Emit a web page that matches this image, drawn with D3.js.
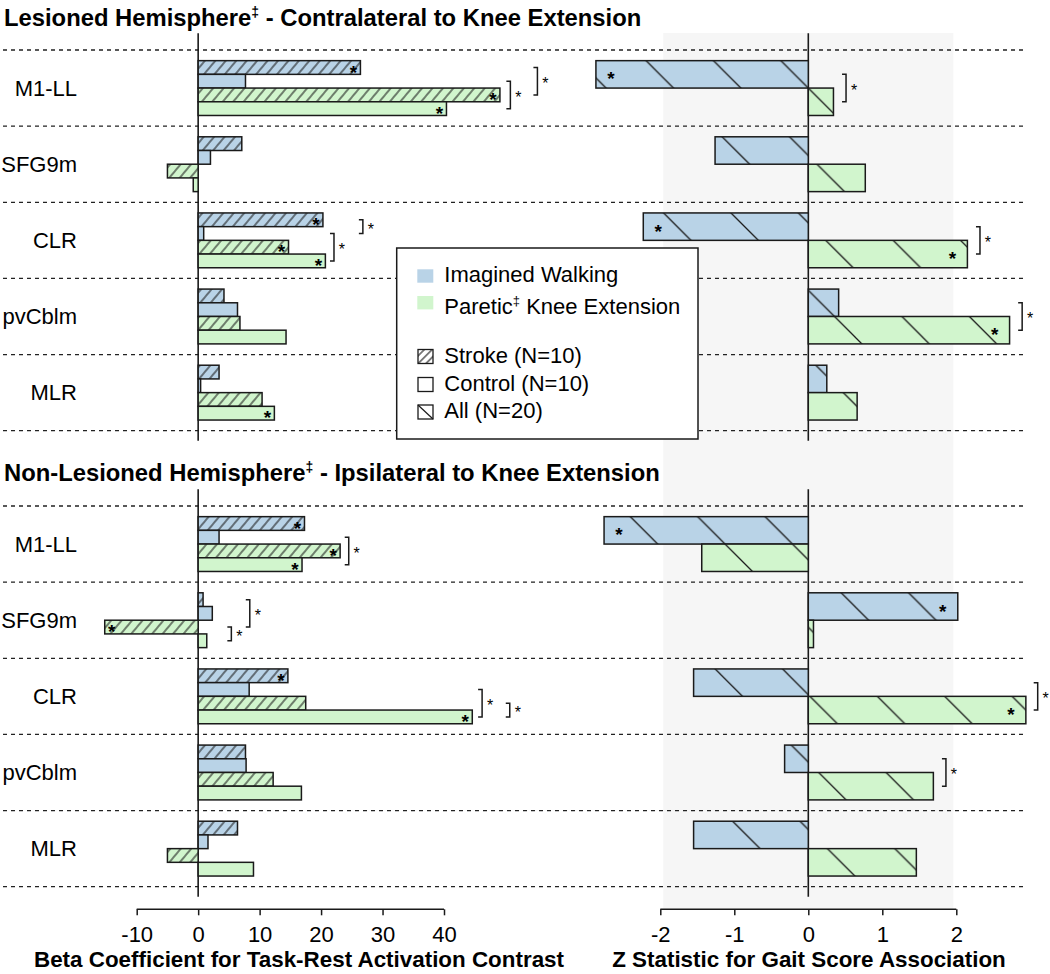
<!DOCTYPE html>
<html><head><meta charset="utf-8">
<script src="https://cdn.jsdelivr.net/npm/d3@7"></script>
<style>body{margin:0;background:#fff}svg{display:block;font-family:"Liberation Sans",Arial,Helvetica,sans-serif}</style>
</head><body>
<script>
// ---------------- data ----------------
const regions = ["M1-LL","SFG9m","CLR","pvCblm","MLR"];
const betaTicks = [-10,0,10,20,30,40];
const zTicks = [-2,-1,0,1,2];

// Lesioned hemisphere: beta coefficients
const lesStrokeIW  = [26.4, 7.1, 20.3, 4.2, 3.4];
const lesControlIW = [7.7, 2.0, 0.9, 6.4, 0.4];
const lesStrokeKE  = [49.1, -5.0, 14.7, 6.8, 10.4];
const lesControlKE = [40.4, -0.8, 20.7, 14.3, 12.4];
const lesStrokeIWSig  = [1,0,1,0,0];
const lesControlIWSig = [0,0,0,0,0];
const lesStrokeKESig  = [1,0,1,0,0];
const lesControlKESig = [1,0,1,0,1];

// Non-lesioned hemisphere: beta coefficients
const nonStrokeIW  = [17.3, 0.8, 14.6, 7.7, 6.4];
const nonControlIW = [3.4, 2.3, 8.3, 7.8, 1.6];
const nonStrokeKE  = [23.1, -15.2, 17.5, 12.2, -5.0];
const nonControlKE = [16.9, 1.4, 44.6, 16.8, 9.0];
const nonStrokeIWSig  = [1,0,1,0,0];
const nonControlIWSig = [0,0,0,0,0];
const nonStrokeKESig  = [1,1,0,0,0];
const nonControlKESig = [1,0,1,0,0];

// Z statistics (All, N=20)
const lesZIW = [-2.87, -1.26, -2.23, 0.41, 0.25];
const lesZKE = [0.34, 0.77, 2.15, 2.72, 0.66];
const nonZIW = [-2.76, 2.02, -1.55, -0.32, -1.55];
const nonZKE = [-1.44, 0.07, 2.94, 1.69, 1.46];
const lesZIWSig = [1,0,1,0,0];
const lesZKESig = [0,0,1,1,0];
const nonZIWSig = [1,1,0,0,0];
const nonZKESig = [0,0,1,0,0];

// significance brackets: region, bar indices compared, value where bracket sits
const lesBrackets  = [{r:"M1-LL",a:1,b:3,at:50.8},{r:"M1-LL",a:0,b:2,at:55.2},{r:"CLR",a:0,b:1,at:26.8},{r:"CLR",a:1,b:3,at:22.1}];
const nonBrackets  = [{r:"M1-LL",a:1,b:3,at:24.5},{r:"SFG9m",a:0,b:2,at:8.4},{r:"SFG9m",a:2,b:3,at:5.4},{r:"CLR",a:1,b:3,at:46.2},{r:"CLR",a:2,b:3,at:50.7}];
const lesZBrackets = [{r:"M1-LL",a:0,b:1,at:0.51},{r:"CLR",a:0,b:1,at:2.32},{r:"pvCblm",a:0,b:1,at:2.89}];
const nonZBrackets = [{r:"CLR",a:0,b:1,at:3.10},{r:"pvCblm",a:0,b:1,at:1.86}];

const titles = ["Lesioned Hemisphere", " - Contralateral to Knee Extension", "Non-Lesioned Hemisphere", " - Ipsilateral to Knee Extension"];
const legendTasks = ["Imagined Walking", "Paretic", " Knee Extension"];
const legendGroups = ["Stroke (N=10)", "Control (N=10)", "All (N=20)"];
const xTitleL = "Beta Coefficient for Task-Rest Activation Contrast";
const xTitleR = "Z Statistic for Gait Score Association";

// ---------------- styles ----------------
const BLUE = "#b9d3e7", GREEN = "#d1f5cd", INK = "#1a1a1a";
const W = 1050, H = 974;

const svg = d3.select("body").append("svg").attr("width", W).attr("height", H);
const defs = svg.append("defs");

const xL = d3.scaleLinear().domain([-10, 40]).range([136.7, 444]);
const xR = d3.scaleLinear().domain([-2, 2]).range([660.3, 956.3]);

// patterns
const pSlash = defs.append("pattern").attr("id","slash").attr("patternUnits","userSpaceOnUse")
  .attr("width",8).attr("height",20).attr("patternTransform","rotate(40)");
pSlash.append("line").attr("x1",4).attr("y1",-2).attr("x2",4).attr("y2",22).attr("stroke",INK).attr("stroke-width",1.1);

const pLegSlash = defs.append("pattern").attr("id","legslash").attr("patternUnits","userSpaceOnUse")
  .attr("width",5.5).attr("height",20).attr("patternTransform","rotate(45)");
pLegSlash.append("line").attr("x1",2.75).attr("y1",-2).attr("x2",2.75).attr("y2",22).attr("stroke",INK).attr("stroke-width",1.1);

const period = 67.4;

// ---------------- panels ----------------
const panels = [
  {top:50, bottom:430.7, lineTop:33.3, lineBottom:440.7,
   left:[lesStrokeIW, lesControlIW, lesStrokeKE, lesControlKE],
   leftSig:[lesStrokeIWSig, lesControlIWSig, lesStrokeKESig, lesControlKESig],
   right:[lesZIW, lesZKE], rightSig:[lesZIWSig, lesZKESig],
   lb:lesBrackets, rb:lesZBrackets, title:[titles[0], titles[1]], titleY:26},
  {top:506, bottom:886.7, lineTop:489.3, lineBottom:896.7,
   left:[nonStrokeIW, nonControlIW, nonStrokeKE, nonControlKE],
   leftSig:[nonStrokeIWSig, nonControlIWSig, nonStrokeKESig, nonControlKESig],
   right:[nonZIW, nonZKE], rightSig:[nonZIWSig, nonZKESig],
   lb:nonBrackets, rb:nonZBrackets, title:[titles[2], titles[3]], titleY:481}
];
const leftFill = [BLUE, BLUE, GREEN, GREEN];
const leftHatch = [true, false, true, false];
const rightFill = [BLUE, GREEN];

// gray +-1.96 band
svg.append("rect").attr("x", xR(-1.96)).attr("y", 33).attr("width", xR(1.96)-xR(-1.96))
  .attr("height", 909 - 33).attr("fill", "#f6f6f6");

// backslash pattern anchored to first panel
{
  const y0 = d3.scaleBand().domain(regions).range([panels[0].top, panels[0].bottom]).paddingInner(0.28).paddingOuter(0.14);
  const anchor = ((xR(0) - (y0(regions[0]) + y0.bandwidth()/2)) % period + period) % period;
  const pB = defs.append("pattern").attr("id","bslash").attr("patternUnits","userSpaceOnUse")
    .attr("x", anchor).attr("y", 0).attr("width", period).attr("height", period);
  pB.append("path").attr("d", `M0,0L${period},${period}M-4,${period-4}L4,${period+4}M${period-4},-4L${period+4},4`)
    .attr("stroke", INK).attr("stroke-width", 1.3).attr("fill","none");
}

panels.forEach(P => {
  const g = svg.append("g");
  const y = d3.scaleBand().domain(regions).range([P.top, P.bottom]).paddingInner(0.28).paddingOuter(0.14);
  const step = y.step();
  const sub4 = d3.scaleBand().domain([0,1,2,3]).range([0, y.bandwidth()]);
  const sub2 = d3.scaleBand().domain([0,1]).range([0, y.bandwidth()]);

  // dashed separators
  g.selectAll("line.sep").data(d3.range(regions.length + 1)).join("line")
    .attr("x1", 3).attr("x2", 1023)
    .attr("y1", i => P.top + i*step).attr("y2", i => P.top + i*step)
    .attr("stroke", "#222").attr("stroke-width", 1.3).attr("stroke-dasharray", "4,4");

  // zero lines
  [xL(0), xR(0)].forEach(x0 => g.append("line").attr("x1", x0).attr("x2", x0)
    .attr("y1", P.lineTop).attr("y2", P.lineBottom).attr("stroke", INK).attr("stroke-width", 1.6));

  // region labels
  g.selectAll("text.reg").data(regions).join("text")
    .attr("x", 77).attr("y", d => y(d) + y.bandwidth()/2).attr("dy", "0.35em")
    .attr("text-anchor", "end").attr("font-size", 22).attr("fill", "#000").text(d => d);

  // left bars
  P.left.forEach((series, s) => {
    const bars = series.map((v, i) => ({v, r: regions[i], sig: P.leftSig[s][i]}));
    const yb = d => y(d.r) + sub4(s);
    const bx = d => Math.min(xL(0), xL(d.v));
    const bw = d => Math.abs(xL(d.v) - xL(0));
    g.selectAll(null).data(bars).join("rect")
      .attr("x", bx).attr("y", yb).attr("width", bw).attr("height", sub4.bandwidth())
      .attr("fill", leftFill[s]);
    g.selectAll(null).data(bars).join("rect")
      .attr("x", bx).attr("y", yb).attr("width", bw).attr("height", sub4.bandwidth())
      .attr("fill", leftHatch[s] ? "url(#slash)" : "none")
      .attr("stroke", INK).attr("stroke-width", 1.5);
    g.selectAll(null).data(bars.filter(d => d.sig)).join("text")
      .attr("x", d => d.v >= 0 ? xL(d.v) - 7 : xL(d.v) + 7)
      .attr("y", d => yb(d) + sub4.bandwidth()/2 + 11)
      .attr("text-anchor", "middle").attr("font-size", 19).attr("font-weight", "bold").text("*");
  });

  // right bars
  P.right.forEach((series, s) => {
    const bars = series.map((v, i) => ({v, r: regions[i], sig: P.rightSig[s][i]}));
    const yb = d => y(d.r) + sub2(s);
    const bx = d => Math.min(xR(0), xR(d.v));
    const bw = d => Math.abs(xR(d.v) - xR(0));
    g.selectAll(null).data(bars).join("rect")
      .attr("x", bx).attr("y", yb).attr("width", bw).attr("height", sub2.bandwidth())
      .attr("fill", rightFill[s]);
    g.selectAll(null).data(bars).join("rect")
      .attr("x", bx).attr("y", yb).attr("width", bw).attr("height", sub2.bandwidth())
      .attr("fill", "url(#bslash)").attr("stroke", INK).attr("stroke-width", 1.5);
    g.selectAll(null).data(bars.filter(d => d.sig)).join("text")
      .attr("x", d => d.v >= 0 ? xR(d.v) - 15 : xR(d.v) + 15)
      .attr("y", d => yb(d) + sub2.bandwidth()/2 + 11)
      .attr("text-anchor", "middle").attr("font-size", 19).attr("font-weight", "bold").text("*");
  });

  // brackets
  function drawBrackets(list, xs, sub) {
    list.forEach(b => {
      const y1 = y(b.r) + sub(b.a) + sub.bandwidth()/2;
      const y2 = y(b.r) + sub(b.b) + sub.bandwidth()/2;
      const x = xs(b.at);
      g.append("path").attr("d", `M${x-4},${y1}H${x}V${y2}H${x-4}`)
        .attr("fill", "none").attr("stroke", INK).attr("stroke-width", 1.5);
      g.append("text").attr("x", x + 8).attr("y", (y1 + y2)/2 + 8)
        .attr("text-anchor", "middle").attr("font-size", 16).text("*");
    });
  }
  drawBrackets(P.lb, xL, sub4);
  drawBrackets(P.rb, xR, sub2);

  // panel title
  const t = svg.append("text").attr("x", 4).attr("y", P.titleY).attr("font-size", 23.8).attr("font-weight", "bold");
  t.append("tspan").text(P.title[0]);
  t.append("tspan").attr("font-size", 14).attr("dy", -9).text("\u2021");
  t.append("tspan").attr("dy", 9).text(P.title[1]);
});

// axes
function drawAxis(scale, ticks, yA) {
  const g = svg.append("g").attr("transform", `translate(0,${yA})`);
  const ax = d3.axisBottom(scale).tickValues(ticks).tickSize(6).tickSizeOuter(0).tickPadding(10)
    .tickFormat(d => String(d));
  g.call(ax);
  g.select(".domain").attr("stroke", INK).attr("stroke-width", 1.5)
    .attr("d", `M${scale(ticks[0])},0H${scale(ticks[ticks.length-1])}`);
  g.selectAll(".tick line").attr("stroke", INK).attr("stroke-width", 1.5);
  g.selectAll(".tick text").attr("font-size", 22).attr("fill", "#000")
    .attr("font-family", '"Liberation Sans",Arial,sans-serif').attr("dy", "0.71em")
    .attr("y", 17);
}
drawAxis(xL, betaTicks, 909.3);
drawAxis(xR, zTicks, 909.3);

svg.append("text").attr("x", 299).attr("y", 967).attr("text-anchor", "middle")
  .attr("font-size", 22.4).attr("font-weight", "bold").text(xTitleL);
svg.append("text").attr("x", 809).attr("y", 967).attr("text-anchor", "middle")
  .attr("font-size", 22.4).attr("font-weight", "bold").text(xTitleR);

// legend
const lg = svg.append("g");
lg.append("rect").attr("x", 396.7).attr("y", 248).attr("width", 301.3).attr("height", 191)
  .attr("fill", "#fff").attr("stroke", INK).attr("stroke-width", 1.5);
lg.append("rect").attr("x", 417.3).attr("y", 269.3).attr("width", 16).attr("height", 13.4).attr("fill", BLUE);
lg.append("rect").attr("x", 417.3).attr("y", 296).attr("width", 16).attr("height", 13.4).attr("fill", GREEN);
lg.append("text").attr("x", 444.3).attr("y", 282).attr("font-size", 22).text(legendTasks[0]);
const lt = lg.append("text").attr("x", 444.3).attr("y", 314).attr("font-size", 22);
lt.append("tspan").text(legendTasks[1]);
lt.append("tspan").attr("font-size", 13).attr("dy", -9).text("\u2021");
lt.append("tspan").attr("dy", 9).text(legendTasks[2]);

const gy = [349.5, 377.5, 405];
const gBase = [363.3, 390.7, 417.7];
legendGroups.forEach((name, i) => {
  lg.append("rect").attr("x", 418).attr("y", gy[i]).attr("width", 15).attr("height", 14)
    .attr("fill", i === 0 ? "url(#legslash)" : "#fff").attr("stroke", INK).attr("stroke-width", 1.3);
  if (i === 2) lg.append("line").attr("x1", 418).attr("y1", gy[i]).attr("x2", 433).attr("y2", gy[i] + 14)
    .attr("stroke", INK).attr("stroke-width", 1.2);
  lg.append("text").attr("x", 444.3).attr("y", gBase[i]).attr("font-size", 22).text(name);
});
</script>
</body></html>
